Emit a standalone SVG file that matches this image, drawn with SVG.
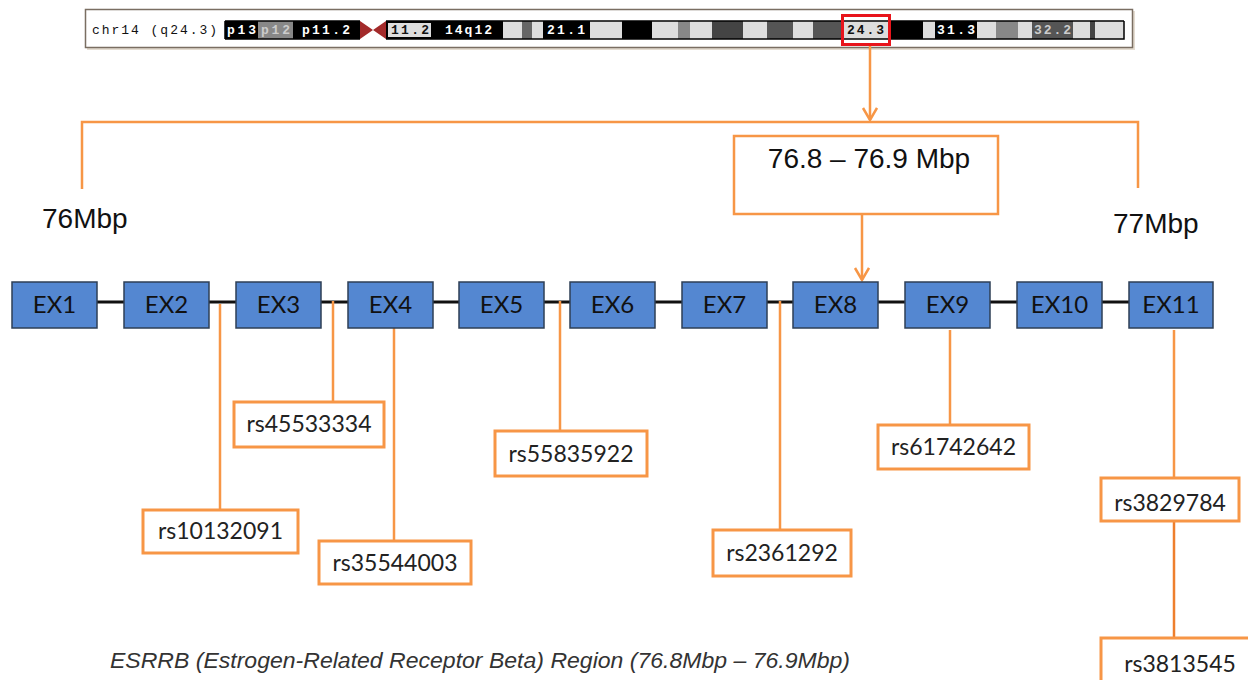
<svg xmlns="http://www.w3.org/2000/svg" width="1248" height="680" viewBox="0 0 1248 680">
<style>
.ex rect{fill:#5487D1;stroke:#2E3F55;stroke-width:1.5}
.ex text{font-family:Lato,"Open Sans",sans-serif;font-size:24px;fill:#111;text-anchor:middle}
.snp rect{fill:#fff;stroke:#F79646;stroke-width:3}
.snp text{font-family:Lato,"Open Sans",sans-serif;font-size:23px;fill:#222;text-anchor:middle}
.ol{stroke:#F79646;stroke-width:2.5;fill:none}
.mono{font-family:"Liberation Mono","DejaVu Sans Mono",monospace;font-size:13px}
.band{font-weight:bold}
.big{font-family:"Liberation Sans",Arial,sans-serif;font-size:28px;fill:#111}
</style>
<defs>
<marker id="v" markerUnits="userSpaceOnUse" markerWidth="18" markerHeight="18" refX="14" refY="8" orient="auto">
<path d="M2,1 L14,8 L2,15" fill="none" stroke="#F79646" stroke-width="2.5"/>
</marker>
</defs>
<rect width="1248" height="680" fill="#fff"/>

<g id="ideogram">
<rect x="87" y="11" width="1048" height="39" fill="#c9b9a4" opacity="0.5"/>
<rect x="85.5" y="9.5" width="1047" height="38" fill="#fff" stroke="#7a6e62" stroke-width="1.5"/>
<text x="92" y="34" class="mono" fill="#111" textLength="125">chr14 (q24.3)</text>
<g stroke="none">
<rect x="225" y="21" width="33" height="18" fill="#000"/>
<rect x="258" y="21" width="35" height="18" fill="#888"/>
<rect x="293" y="21" width="67" height="18" fill="#000"/>
<path d="M360,21 L373,30 L360,39 Z M386,21 L373,30 L386,39 Z" fill="#A32A2A"/>
<rect x="386" y="21" width="47" height="18" fill="#000"/>
<rect x="388" y="23" width="43" height="14" fill="#ddd"/>
<rect x="433" y="21" width="70" height="18" fill="#000"/>
<rect x="503" y="21" width="19" height="18" fill="#ddd"/>
<rect x="522" y="21" width="10" height="18" fill="#666"/>
<rect x="532" y="21" width="11" height="18" fill="#ddd"/>
<rect x="543" y="21" width="47" height="18" fill="#000"/>
<rect x="590" y="21" width="32" height="18" fill="#ddd"/>
<rect x="622" y="21" width="30" height="18" fill="#000"/>
<rect x="652" y="21" width="26" height="18" fill="#ddd"/>
<rect x="678" y="21" width="12" height="18" fill="#888"/>
<rect x="690" y="21" width="22" height="18" fill="#ddd"/>
<rect x="712" y="21" width="31" height="18" fill="#444"/>
<rect x="743" y="21" width="24" height="18" fill="#ddd"/>
<rect x="767" y="21" width="26" height="18" fill="#555"/>
<rect x="793" y="21" width="20" height="18" fill="#ddd"/>
<rect x="813" y="21" width="30" height="18" fill="#555"/>
<rect x="843" y="21" width="45" height="18" fill="#ddd"/>
<rect x="888" y="21" width="35" height="18" fill="#000"/>
<rect x="923" y="21" width="12" height="18" fill="#ddd"/>
<rect x="935" y="21" width="42" height="18" fill="#000"/>
<rect x="977" y="21" width="19" height="18" fill="#ddd"/>
<rect x="996" y="21" width="22" height="18" fill="#888"/>
<rect x="1018" y="21" width="14" height="18" fill="#ddd"/>
<rect x="1032" y="21" width="41" height="18" fill="#555"/>
<rect x="1073" y="21" width="17" height="18" fill="#ddd"/>
<rect x="1090" y="21" width="5" height="18" fill="#444"/>
<rect x="1095" y="21" width="29" height="18" fill="#ddd"/>
</g>
<path d="M225,21 H360 M225,39 H360 M225,21 V39 M386,21 H1124 M386,39 H1124 V21" stroke="#000" stroke-width="1.5" fill="none"/>
<g class="mono band">
<text x="227" y="34" fill="#fff" textLength="29">p13</text>
<text x="261" y="34" fill="#ccc" textLength="29">p12</text>
<text x="302" y="34" fill="#fff" textLength="48">p11.2</text>
<text x="391" y="34" fill="#111" textLength="38">11.2</text>
<text x="445" y="34" fill="#fff" textLength="47">14q12</text>
<text x="547" y="34" fill="#fff" textLength="38">21.1</text>
<text x="847" y="34" fill="#111" textLength="37">24.3</text>
<text x="937" y="34" fill="#fff" textLength="38">31.3</text>
<text x="1034" y="34" fill="#ccc" textLength="37">32.2</text>
</g>
<rect x="842.5" y="15.5" width="47" height="29" fill="none" stroke="#E8141B" stroke-width="3"/>
</g>

<g id="connectors">
<path class="ol" d="M870,46 V120" marker-end="url(#v)"/>
<path class="ol" d="M82,189 V122 H1138 V188"/>
<path class="ol" d="M862,214 V280" marker-end="url(#v)"/>
<path d="M97,302 H1129" stroke="#111" stroke-width="3"/>
<path class="ol" d="M220,304 V510"/>
<path class="ol" d="M333,301 V402"/>
<path class="ol" d="M394,328 V541"/>
<path class="ol" d="M560,301 V431"/>
<path class="ol" d="M780,301 V530"/>
<path class="ol" d="M950,330 V425"/>
<path class="ol" d="M1174,330 V478"/>
<path d="M1174,521 V638" stroke="#EE7F2D" stroke-width="2.5"/>
</g>

<g id="range-box">
<rect x="734" y="136" width="264" height="78" fill="#fff" stroke="#F79646" stroke-width="2.5"/>
<text x="869" y="168" class="big" font-size="26" text-anchor="middle">76.8 – 76.9 Mbp</text>
</g>
<g id="label-76"><text x="42" y="228" class="big">76Mbp</text></g>
<g id="label-77"><text x="1113" y="233" class="big">77Mbp</text></g>

<g id="ex1" class="ex"><rect x="12" y="282" width="85" height="46"/><text x="54.5" y="313">EX1</text></g>
<g id="ex2" class="ex"><rect x="124" y="282" width="85" height="46"/><text x="166.5" y="313">EX2</text></g>
<g id="ex3" class="ex"><rect x="236" y="282" width="85" height="46"/><text x="278.5" y="313">EX3</text></g>
<g id="ex4" class="ex"><rect x="348" y="282" width="85" height="46"/><text x="390.5" y="313">EX4</text></g>
<g id="ex5" class="ex"><rect x="459" y="282" width="85" height="46"/><text x="501.5" y="313">EX5</text></g>
<g id="ex6" class="ex"><rect x="570" y="282" width="85" height="46"/><text x="612.5" y="313">EX6</text></g>
<g id="ex7" class="ex"><rect x="682" y="282" width="85" height="46"/><text x="724.5" y="313">EX7</text></g>
<g id="ex8" class="ex"><rect x="793" y="282" width="85" height="46"/><text x="835.5" y="313">EX8</text></g>
<g id="ex9" class="ex"><rect x="905" y="282" width="85" height="46"/><text x="947.5" y="313">EX9</text></g>
<g id="ex10" class="ex"><rect x="1017" y="282" width="85" height="46"/><text x="1059.5" y="313">EX10</text></g>
<g id="ex11" class="ex"><rect x="1129" y="282" width="84" height="46"/><text x="1171" y="313">EX11</text></g>

<g id="rs10132091" class="snp"><rect x="143" y="510" width="155" height="43"/><text x="220.5" y="539">rs10132091</text></g>
<g id="rs45533334" class="snp"><rect x="234" y="402" width="150" height="45"/><text x="309" y="432">rs45533334</text></g>
<g id="rs35544003" class="snp"><rect x="319" y="541" width="152" height="43"/><text x="395" y="571">rs35544003</text></g>
<g id="rs55835922" class="snp"><rect x="495" y="431" width="152" height="45"/><text x="571" y="462">rs55835922</text></g>
<g id="rs2361292" class="snp"><rect x="713" y="530" width="138" height="46"/><text x="782" y="561">rs2361292</text></g>
<g id="rs61742642" class="snp"><rect x="878" y="425" width="151" height="44"/><text x="953.5" y="455">rs61742642</text></g>
<g id="rs3829784" class="snp"><rect x="1101" y="478" width="138" height="43"/><text x="1170" y="511">rs3829784</text></g>
<g id="rs3813545" class="snp"><rect x="1101" y="638" width="160" height="60"/><text x="1180" y="672">rs3813545</text></g>

<g id="caption"><text x="110" y="668" font-family="'Liberation Sans',Arial,sans-serif" font-style="italic" font-size="22" fill="#333" textLength="740" lengthAdjust="spacingAndGlyphs">ESRRB (Estrogen-Related Receptor Beta) Region (76.8Mbp – 76.9Mbp)</text></g>
</svg>
